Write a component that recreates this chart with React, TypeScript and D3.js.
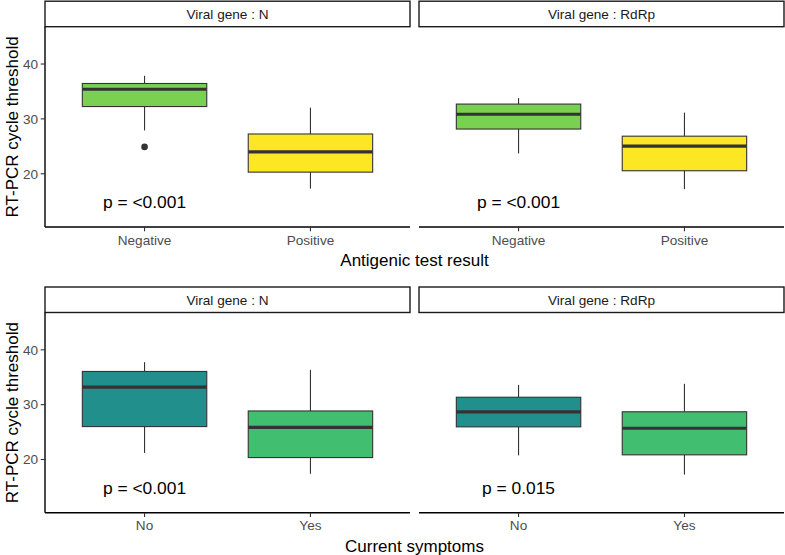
import React from "react";
import * as d3 from "d3";

// ---------- data ----------
const genes = ["N", "RdRp"];
const antigenCategories = ["Negative", "Positive"];
const symptomCategories = ["No", "Yes"];
const yTicks = [20, 30, 40];

// [lowerWhisker, q1, median, q3, upperWhisker]
const antigenN = [
  [27.9, 32.25, 35.4, 36.45, 37.85],
  [17.3, 20.3, 24.0, 27.25, 32.05],
];
const antigenNOutliers = [[24.9], []];
const antigenRdRp = [
  [23.7, 28.15, 30.85, 32.7, 33.8],
  [17.2, 20.55, 25.05, 26.85, 31.15],
];
const antigenRdRpOutliers = [[], []];

const symptomsN = [
  [21.2, 26.0, 33.2, 36.05, 37.75],
  [17.4, 20.35, 25.85, 28.85, 36.35],
];
const symptomsRdRp = [
  [20.75, 25.95, 28.7, 31.35, 33.6],
  [17.25, 20.85, 25.7, 28.7, 33.8],
];
const emptyOutliers = [[], []];

const antigenP = ["p = <0.001", "p = <0.001"];
const symptomsP = ["p = <0.001", "p = 0.015"];
const pLabelY = 14.8;

const antigenColors = ["#7AD151", "#FDE725"];
const symptomColors = ["#21908C", "#42BE71"];

const FONT = "'Liberation Sans', Arial, Helvetica, sans-serif";

type PanelProps = {
  x0: number;
  x1: number;
  top: number;
  bottom: number;
  gene: string;
  cats: string[];
  stats: number[][];
  outliers: number[][];
  colors: string[];
  pLabel: string;
  showY: boolean;
};

function Panel(p: PanelProps) {
  const stripH = 25.5;
  const plotTop = p.top + stripH;
  const x = d3.scaleLinear().domain([0.4, 2.6]).range([p.x0, p.x1]);
  const y = d3.scaleLinear().domain([10.3, 46.8]).range([p.bottom, plotTop]);
  const bw = x(1.375) - x(1);
  return (
    <g>
      {/* strip */}
      <rect x={p.x0} y={p.top} width={p.x1 - p.x0} height={stripH} fill="white" stroke="#1a1a1a" strokeWidth={1.4} />
      <text x={(p.x0 + p.x1) / 2} y={p.top + stripH / 2} dy="0.35em" textAnchor="middle" fontSize={13.6} fill="#1a1a1a" fontFamily={FONT}>
        {"Viral gene : " + p.gene}
      </text>
      {/* boxes */}
      {p.cats.map((c, i) => {
        const cx = x(i + 1);
        const [lw, q1, med, q3, uw] = p.stats[i];
        return (
          <g key={c}>
            <line x1={cx} x2={cx} y1={y(uw)} y2={y(q3)} stroke="#333333" strokeWidth={1.1} />
            <line x1={cx} x2={cx} y1={y(q1)} y2={y(lw)} stroke="#333333" strokeWidth={1.1} />
            <rect x={cx - bw} y={y(q3)} width={2 * bw} height={y(q1) - y(q3)} fill={p.colors[i]} stroke="#333333" strokeWidth={1.1} />
            <line x1={cx - bw} x2={cx + bw} y1={y(med)} y2={y(med)} stroke="#333333" strokeWidth={3.2} />
            {p.outliers[i].map((o, k) => (
              <circle key={k} cx={cx} cy={y(o)} r={3.3} fill="#333333" />
            ))}
          </g>
        );
      })}
      {/* p label */}
      <text x={x(1)} y={y(pLabelY)} dy="0.35em" textAnchor="middle" fontSize={17.4} fill="black" fontFamily={FONT}>
        {p.pLabel}
      </text>
      {/* x axis */}
      <line x1={p.x0} x2={p.x1} y1={p.bottom} y2={p.bottom} stroke="black" strokeWidth={1.4} />
      {p.cats.map((c, i) => (
        <g key={c}>
          <line x1={x(i + 1)} x2={x(i + 1)} y1={p.bottom} y2={p.bottom + 4.3} stroke="#333333" strokeWidth={1.1} />
          <text x={x(i + 1)} y={p.bottom + 17.5} textAnchor="middle" fontSize={13.6} fill="#4d4d4d" fontFamily={FONT}>
            {c}
          </text>
        </g>
      ))}
      {/* y axis */}
      {p.showY && (
        <g>
          <line x1={p.x0} x2={p.x0} y1={plotTop} y2={p.bottom} stroke="black" strokeWidth={1.4} />
          {yTicks.map((t) => (
            <g key={t}>
              <line x1={p.x0 - 4.3} x2={p.x0} y1={y(t)} y2={y(t)} stroke="#333333" strokeWidth={1.1} />
              <text x={p.x0 - 7} y={y(t)} dy="0.35em" textAnchor="end" fontSize={13.6} fill="#4d4d4d" fontFamily={FONT}>
                {t}
              </text>
            </g>
          ))}
        </g>
      )}
    </g>
  );
}

function Row(props: {
  top: number;
  bottom: number;
  cats: string[];
  statsN: number[][];
  statsR: number[][];
  outN: number[][];
  outR: number[][];
  colors: string[];
  pLabels: string[];
  xTitle: string;
}) {
  const panels = [
    { x0: 45, x1: 410 },
    { x0: 419, x1: 784 },
  ];
  const midY = (props.top + 25.5 + props.bottom) / 2;
  return (
    <g>
      {genes.map((g, gi) => (
        <Panel
          key={g}
          x0={panels[gi].x0}
          x1={panels[gi].x1}
          top={props.top}
          bottom={props.bottom}
          gene={g}
          cats={props.cats}
          stats={gi === 0 ? props.statsN : props.statsR}
          outliers={gi === 0 ? props.outN : props.outR}
          colors={props.colors}
          pLabel={props.pLabels[gi]}
          showY={gi === 0}
        />
      ))}
      <text x={414.5} y={props.bottom + 39} textAnchor="middle" fontSize={17} fill="black" fontFamily={FONT}>
        {props.xTitle}
      </text>
      <text transform={`translate(12.5,${midY}) rotate(-90)`} dy="0.35em" textAnchor="middle" fontSize={17} fill="black" fontFamily={FONT}>
        RT-PCR cycle threshold
      </text>
    </g>
  );
}

export default function App() {
  return (
    <svg width={785} height={555} style={{ position: "absolute", left: 0, top: 0, background: "white" }}>
      <rect width={785} height={555} fill="white" />
      <Row
        top={1.2}
        bottom={227}
        cats={antigenCategories}
        statsN={antigenN}
        statsR={antigenRdRp}
        outN={antigenNOutliers}
        outR={antigenRdRpOutliers}
        colors={antigenColors}
        pLabels={antigenP}
        xTitle="Antigenic test result"
      />
      <Row
        top={287}
        bottom={512.7}
        cats={symptomCategories}
        statsN={symptomsN}
        statsR={symptomsRdRp}
        outN={emptyOutliers}
        outR={emptyOutliers}
        colors={symptomColors}
        pLabels={symptomsP}
        xTitle="Current symptoms"
      />
    </svg>
  );
}
